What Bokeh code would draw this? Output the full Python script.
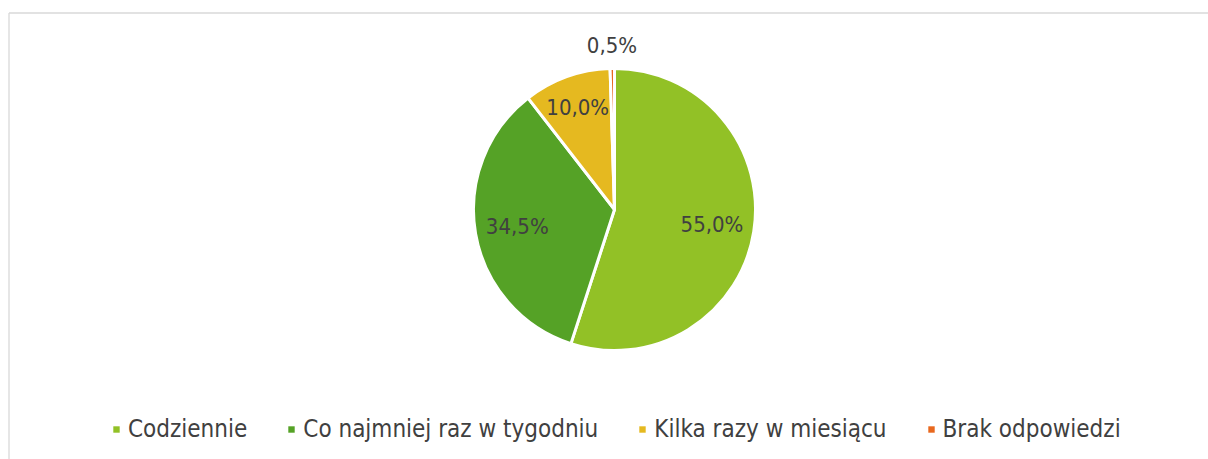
import math
from bokeh.plotting import figure
from bokeh.models import ColumnDataSource, Range1d, Legend, LegendItem
from bokeh.core.properties import value
from bokeh.embed import file_html
from bokeh.resources import INLINE

categories = ["Codziennie", "Co najmniej raz w tygodniu", "Kilka razy w miesiącu", "Brak odpowiedzi"]
shares = [55.0, 34.5, 10.0, 0.5]
labels = ["55,0%", "34,5%", "10,0%", "0,5%"]
colors = ["#92C126", "#55A226", "#E5B920", "#E8681E"]

FONT = "DejaVu Sans Condensed"
W, H = 1208, 459
cx, cy, R = 614, 250, 141

p = figure(width=W, height=H, output_backend="svg", toolbar_location=None,
           x_range=Range1d(0, W), y_range=Range1d(0, H),
           min_border=0, min_border_left=0, min_border_right=0,
           min_border_top=0, min_border_bottom=0)
p.axis.visible = False
p.grid.visible = False
p.outline_line_color = None
p.background_fill_color = "white"
p.border_fill_color = "white"

# chart-area border (top and left visible)
p.multi_line(xs=[[8.5, W], [8.5, 8.5]], ys=[[446.5, 446.5], [446.5, 0]],
             line_color="#D9D9D9", line_width=1.3)

total = sum(shares)
starts, ends, tx, ty = [], [], [], []
cum = 0.0
for s in shares:
    a0 = math.pi / 2 - 2 * math.pi * cum / total
    a1 = math.pi / 2 - 2 * math.pi * (cum + s) / total
    starts.append(a0)
    ends.append(a1)
    mid = (a0 + a1) / 2
    frac = s / total
    if frac < 0.02:
        k = 1.16
    elif frac < 0.15:
        k = 0.77
    else:
        k = 0.70
    tx.append(cx + k * R * math.cos(mid))
    ty.append(cy + k * R * math.sin(mid))
    cum += s

src = ColumnDataSource(dict(cat=categories, start=starts, end=ends, color=colors,
                            tx=tx, ty=ty, label=labels))

for i in range(len(categories)):
    p.wedge(x=cx, y=cy, radius=R, radius_units="screen",
            start_angle=starts[i], end_angle=ends[i], direction="clock",
            fill_color=colors[i], line_color="white", line_width=3)

p.text(x="tx", y="ty", text="label", source=src, text_align="center",
       text_baseline="middle", text_font=value(FONT), text_font_size="22px",
       text_color="#404040")

# legend swatches (off-screen quads so the legend draws filled squares)
nan = float("nan")
swatches = []
for i in range(len(categories)):
    q = p.quad(left=[nan], right=[nan], top=[nan], bottom=[nan],
               fill_color=colors[i], line_color=None)
    swatches.append(q)

legend = Legend(items=[LegendItem(label=categories[i], renderers=[swatches[i]]) for i in range(4)],
                orientation="horizontal", location=(112, 16),
                glyph_width=8, glyph_height=8, label_standoff=8, spacing=40,
                padding=0, margin=0, border_line_color=None,
                background_fill_alpha=0, label_text_font=FONT,
                label_text_font_size="24px", label_text_color="#404040",
                label_height=28)
p.add_layout(legend, "center")

open("out.html", "w").write(file_html(p, INLINE))
